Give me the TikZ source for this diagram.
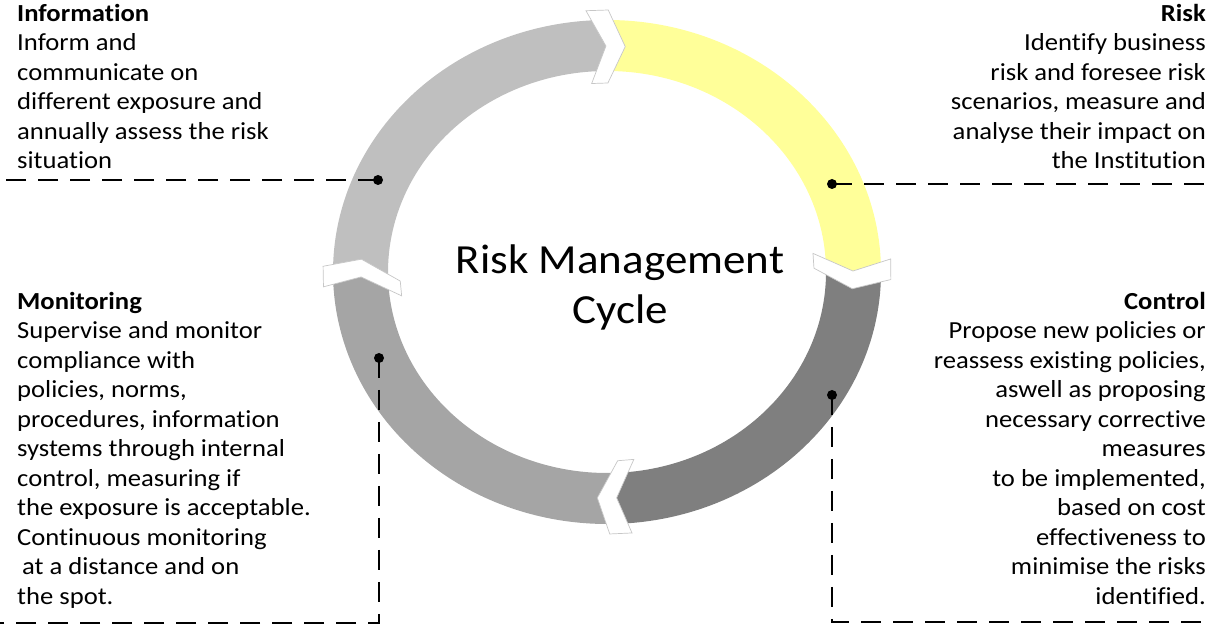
\documentclass[tikz,border=0pt]{standalone}
\usepackage{fontspec}
\setmainfont{Carlito}[FakeStretch=1.087, Ligatures={NoCommon,NoRequired,NoContextual}]
\usepackage{tikz}
\definecolor{infogray}{HTML}{BFBFBF}
\definecolor{riskyellow}{HTML}{FFFF99}
\definecolor{controlgray}{HTML}{7F7F7F}
\definecolor{monitorgray}{HTML}{A5A5A5}

\begin{document}
\begin{tikzpicture}[x=1pt, y=1pt,
  every node/.style={inner sep=0pt, font={\fontsize{24.5}{29.5}\selectfont}},
  sidetext/.style={align=left, anchor=north west},
  sidetextr/.style={align=right, anchor=north east},
  titletext/.style={align=center, font={\fontsize{41.4}{50}\selectfont}},
  leader/.style={line width=2.6pt, dash pattern=on 20pt off 12pt},
  gapmark/.style={fill=white, draw=black!22, line width=0.7pt}]

  \useasboundingbox (0,0) rectangle (1212,628);

  % ring of four arrows round the centre
  \begin{scope}[shift={(607,356)}]
    \foreach \from/\to/\col in {180.5/90/infogray, 90/0/riskyellow,
        0/-88/controlgray, -88/-179.5/monitorgray}
      \fill[\col] (\from:274 and 252)
        arc[start angle=\from, end angle=\to, x radius=274, y radius=252]
        -- (\to:219 and 201)
        arc[start angle=\to, end angle=\from, x radius=219, y radius=201] -- cycle;

    % white chevron gaps
    \foreach \g/\t in {92/0, 2/-1.4, -86/-1.2, 183/-2}
      \filldraw[gapmark] ({\g+2.25+\t}:284 and 262) -- ({\g+2.25-4}:246 and 226)
        -- ({\g+2.25-\t}:207 and 189) -- ({\g-2.25-\t}:207 and 189)
        -- ({\g-2.25-4}:246 and 226) -- ({\g-2.25+\t}:284 and 262) -- cycle;
  \end{scope}

  \node[titletext] (title) at (620,341) {Risk Management\\Cycle};

  % the four texts
  \node[sidetext] (info) at (17,624) {\textbf{Information}\\Inform and\\communicate on\\different exposure and\\annually assess the risk\\situation};
  \node[sidetextr] (risk) at (1206,624) {\textbf{Risk}\\Identify business\\risk and foresee risk\\scenarios, measure and\\analyse their impact on\\the Institution};
  \node[sidetext] (monitor) at (17,336) {\textbf{Monitoring}\\Supervise and monitor\\compliance with\\policies, norms,\\procedures, information\\systems through internal\\control, measuring if\\the exposure is acceptable.\\Continuous monitoring\\\hspace*{5pt}at a distance and on\\the spot.};
  \node[sidetextr] (control) at (1206,336) {\textbf{Control}\\Propose new policies or\\reassess existing policies,\\aswell as proposing\\necessary corrective\\measures\\to be implemented,\\based on cost\\effectiveness to\\minimise the risks\\identified.};

  % leaders from the ring
  \coordinate (infodot) at (378,448);
  \coordinate (infoend) at (0,448);
  \coordinate (riskdot) at (832,444);
  \coordinate (riskend) at (1212,444);
  \coordinate (mondot) at (379,270);
  \coordinate (moncorner) at (379,5);
  \coordinate (monend) at (0,5);
  \coordinate (ctrldot) at (832,233);
  \coordinate (ctrlcorner) at (832,6);
  \coordinate (ctrlend) at (1212,6);

  \draw[leader] (infodot) -- (infoend);
  \draw[leader] (riskdot) -- (riskend);
  \draw[leader] (mondot) -- (moncorner) -- (monend);
  \draw[leader] (ctrldot) -- (ctrlcorner) -- (ctrlend);

  \fill (infodot) circle (5);
  \fill (riskdot) circle (5);
  \fill (mondot) circle (5);
  \fill (ctrldot) circle (5);

\end{tikzpicture}
\end{document}
